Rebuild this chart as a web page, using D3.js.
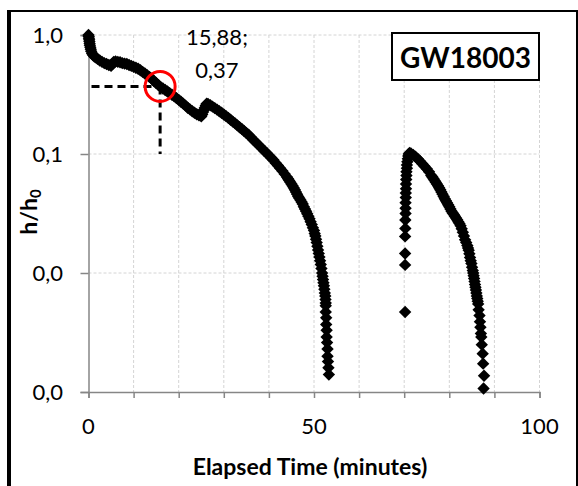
<!DOCTYPE html>
<html>
<head>
<meta charset="utf-8">
<script src="https://cdn.jsdelivr.net/npm/d3@7"></script>
<style>
  html, body { margin: 0; padding: 0; background: #fff; }
  svg { display: block; font-family: Lato, "Open Sans", sans-serif; }
</style>
</head>
<body>
<svg id="chart" width="578" height="486"></svg>
<script>
// well GW18003, first drawdown (minutes, h/h0)
const time1 = [
  0, 0.05, 0.1, 0.15, 0.2, 0.25, 0.3, 0.4, 0.5, 0.6, 0.8, 1.0, 1.3, 1.6, 2.0, 2.5, 3.0, 3.5, 4.0, 4.5,
  5.0, 5.3, 5.6, 6.0, 6.5, 7.0, 7.5, 8.0, 8.5, 9.0, 9.5, 10.0, 10.5, 11.0, 11.5, 12.0, 12.5, 13.0, 13.5, 14.0,
  14.5, 15.0, 15.5, 16.0, 16.5, 17.0, 17.5, 18.0, 18.5, 19.0, 19.5, 20.0, 20.5, 21.0, 21.5, 22.0, 22.5, 23.0, 23.5, 24.0,
  24.5, 25.0, 25.2, 25.4, 25.6, 25.8, 26.0, 26.2, 26.5, 27.0, 27.5, 28.0, 28.5, 29.0, 29.5, 30.0, 30.5, 31.0, 31.5, 32.0,
  32.5, 33.0, 33.5, 34.0, 34.5, 35.0, 35.5, 36.0, 36.5, 37.0, 37.5, 38.0, 38.5, 39.0, 39.5, 40.0, 40.5, 41.0, 41.5, 42.0,
  42.5, 43.0, 43.5, 44.0, 44.25, 44.5, 44.75, 45.0, 45.25, 45.5, 45.75, 46.0, 46.25, 46.5, 46.75, 47.0, 47.25, 47.5, 47.75, 48.0,
  48.25, 48.5, 48.75, 49.0, 49.25, 49.5, 49.75, 50.0, 50.15, 50.3, 50.45, 50.6, 50.75, 50.9, 51.05, 51.2, 51.35, 51.5, 51.65, 51.8,
  51.9, 52.0, 52.1, 52.2, 52.3, 52.4, 52.5, 52.55, 52.6, 52.6, 52.6, 52.7, 52.7, 52.8, 52.8, 52.9, 53.0, 53.0, 53.1, 53.2,
  53.3
];
const ratio1 = [
  1.00, 0.97, 0.94, 0.91, 0.88, 0.85, 0.82, 0.79, 0.76, 0.73, 0.70, 0.68, 0.66, 0.65, 0.63, 0.61, 0.595, 0.58, 0.57, 0.56,
  0.55, 0.57, 0.595, 0.60, 0.595, 0.59, 0.58, 0.575, 0.57, 0.56, 0.55, 0.54, 0.53, 0.52, 0.505, 0.49, 0.475, 0.46, 0.445, 0.43,
  0.41, 0.395, 0.38, 0.365, 0.355, 0.345, 0.335, 0.325, 0.315, 0.305, 0.295, 0.285, 0.275, 0.265, 0.255, 0.245, 0.237, 0.229, 0.222, 0.216,
  0.211, 0.207, 0.215, 0.225, 0.235, 0.245, 0.255, 0.265, 0.263, 0.257, 0.25, 0.243, 0.236, 0.229, 0.222, 0.215, 0.208, 0.201, 0.194, 0.187,
  0.181, 0.174, 0.168, 0.162, 0.156, 0.150, 0.145, 0.138, 0.132, 0.127, 0.121, 0.116, 0.111, 0.106, 0.102, 0.097, 0.093, 0.089, 0.084, 0.080,
  0.076, 0.072, 0.068, 0.064, 0.062, 0.060, 0.058, 0.056, 0.054, 0.052, 0.050, 0.048, 0.046, 0.044, 0.0425, 0.041, 0.0395, 0.038, 0.036, 0.0345,
  0.033, 0.0315, 0.030, 0.0285, 0.027, 0.0255, 0.024, 0.0228, 0.0215, 0.0205, 0.0192, 0.018, 0.0168, 0.0156, 0.0146, 0.0136, 0.0127, 0.0118, 0.0109, 0.010,
  0.0094, 0.0088, 0.0083, 0.0078, 0.0073, 0.0068, 0.0064, 0.0060, 0.0056, 0.0053, 0.0047, 0.0042, 0.0037, 0.0033, 0.0029, 0.0026, 0.0023, 0.0020, 0.0018, 0.0016,
  0.0014
];

// recovery and second drawdown
const time2 = [
  70.2, 70.2, 70.2, 70.2, 70.25, 70.25, 70.3, 70.3, 70.3, 70.35, 70.35, 70.4, 70.4, 70.45, 70.5, 70.5, 70.6, 70.6, 70.7, 70.8,
  70.9, 71.0, 71.2, 71.5, 72.0, 72.5, 73.0, 73.5, 74.0, 74.5, 75.0, 75.5, 76.0, 76.25, 76.5, 76.75, 77.0, 77.25, 77.5, 77.75,
  78.0, 78.25, 78.5, 78.75, 79.0, 79.25, 79.5, 79.75, 80.0, 80.25, 80.5, 80.75, 81.0, 81.25, 81.5, 81.75, 82.0, 82.25, 82.5, 82.75,
  83.0, 83.25, 83.5, 83.75, 84.0, 84.15, 84.3, 84.45, 84.6, 84.75, 84.9, 85.05, 85.2, 85.3, 85.4, 85.5, 85.6, 85.7, 85.8, 85.9,
  86.0, 86.1, 86.2, 86.3, 86.4, 86.5, 86.7, 86.8, 86.9, 87.0, 87.1, 87.2, 87.4, 87.5, 87.7, 87.6
];
const ratio2 = [
  0.0047, 0.0117, 0.0146, 0.0203, 0.0237, 0.0279, 0.0316, 0.035, 0.039, 0.043, 0.047, 0.051, 0.056, 0.061, 0.066, 0.071, 0.076, 0.081, 0.086, 0.091,
  0.096, 0.100, 0.102, 0.101, 0.098, 0.095, 0.091, 0.087, 0.083, 0.079, 0.075, 0.071, 0.066, 0.064, 0.062, 0.060, 0.058, 0.056, 0.054, 0.052,
  0.050, 0.048, 0.046, 0.044, 0.042, 0.0405, 0.039, 0.0375, 0.036, 0.0345, 0.033, 0.032, 0.031, 0.030, 0.029, 0.028, 0.027, 0.026, 0.025, 0.0235,
  0.022, 0.0205, 0.019, 0.018, 0.017, 0.0162, 0.0155, 0.0145, 0.0135, 0.0127, 0.012, 0.0112, 0.0105, 0.010, 0.0095, 0.009, 0.0085, 0.008, 0.0076, 0.0072,
  0.0068, 0.0064, 0.0061, 0.0058, 0.0055, 0.0049, 0.0044, 0.0039, 0.0035, 0.0031, 0.0029, 0.0025, 0.0021, 0.00173, 0.00137, 0.00107
];

const xTicks = [0, 50, 100];
const xGrid = d3.range(0, 101, 10);
const yTicks = [1, 0.1, 0.01, 0.001];

// marked point (t; h/h0)
const markT = [15.88];
const markH = [0.37];
const markLabel = ['15,88;', '0,37'];
const wellName = 'GW18003';

const svg = d3.select('#chart');

const x = d3.scaleLinear().domain([0, 100]).range([88.5, 539.5]);
const y = d3.scaleLog().domain([0.001, 1]).range([392, 35]);

const comma = d3.formatLocale({decimal: ',', thousands: '.', grouping: [3], currency: ['', '']});
const fmt = comma.format('.1f');

// outer frame
svg.append('line').attr('x1', 9).attr('x2', 9).attr('y1', 10).attr('y2', 486)
    .attr('stroke', '#000').attr('stroke-width', 4);
svg.append('line').attr('x1', 7).attr('x2', 578).attr('y1', 11).attr('y2', 11)
    .attr('stroke', '#000').attr('stroke-width', 2);
svg.append('line').attr('x1', 577).attr('x2', 577).attr('y1', 10).attr('y2', 486)
    .attr('stroke', '#000').attr('stroke-width', 2);

// grid
const grid = svg.append('g')
    .attr('stroke', '#d4d4d4')
    .attr('stroke-width', 1)
    .attr('stroke-dasharray', '3,2');
grid.selectAll('line.v')
    .data(xGrid.filter((d) => d > 0))
    .join('line')
    .attr('x1', (d) => x(d)).attr('x2', (d) => x(d))
    .attr('y1', y(1)).attr('y2', y(0.001));
grid.selectAll('line.h')
    .data(yTicks.filter((d) => d > 0.001))
    .join('line')
    .attr('x1', x(0)).attr('x2', x(100))
    .attr('y1', (d) => y(d)).attr('y2', (d) => y(d));

// axes
const xAxis = svg.append('g')
    .attr('transform', `translate(0,${y(0.001)})`)
    .call(d3.axisBottom(x).tickValues(xGrid).tickSize(6).tickFormat(''));
const yAxis = svg.append('g')
    .attr('transform', `translate(${x(0)},0)`)
    .call(d3.axisLeft(y).tickValues(yTicks).tickSize(8).tickFormat(''));
[xAxis, yAxis].forEach((a) => {
  a.select('.domain').attr('stroke', '#868686').attr('stroke-width', 1.5);
  a.selectAll('.tick line').attr('stroke', '#868686').attr('stroke-width', 1.5);
});

svg.append('g')
    .selectAll('text')
    .data(xTicks)
    .join('text')
    .attr('x', (d) => x(d))
    .attr('y', 434)
    .attr('text-anchor', 'middle')
    .attr('font-size', 22)
    .attr('fill', '#000')
    .text((d) => d);

svg.append('g')
    .selectAll('text')
    .data(yTicks)
    .join('text')
    .attr('x', 63)
    .attr('y', (d) => y(d) + 8)
    .attr('text-anchor', 'end')
    .attr('font-size', 22)
    .attr('fill', '#000')
    .text((d) => fmt(d));

svg.append('text')
    .attr('x', 310)
    .attr('y', 475)
    .attr('text-anchor', 'middle')
    .attr('font-size', 23)
    .attr('font-weight', 'bold')
    .text('Elapsed Time (minutes)');

const yTitle = svg.append('text')
    .attr('transform', 'translate(37,212) rotate(-90)')
    .attr('text-anchor', 'middle')
    .attr('font-size', 23)
    .attr('font-weight', 'bold');
yTitle.append('tspan').text('h/h');
yTitle.append('tspan').attr('font-size', 15).attr('dy', 4).text('0');

// reference lines to the marked point
const guide = svg.append('g')
    .attr('stroke', '#000')
    .attr('stroke-width', 3)
    .attr('stroke-dasharray', '8,5')
    .attr('fill', 'none');
guide.append('line')
    .attr('x1', x(0) + 3).attr('x2', x(markT[0]))
    .attr('y1', y(markH[0])).attr('y2', y(markH[0]));
guide.append('line')
    .attr('x1', x(markT[0])).attr('x2', x(markT[0]))
    .attr('y1', y(markH[0])).attr('y2', y(0.1));

// diamond markers
const diamond = (s) => `M0,${-s}L${s},0L0,${s}L${-s},0Z`;
const pts = time1.map((t, i) => [t, ratio1[i]])
    .concat(time2.map((t, i) => [t, ratio2[i]]));
svg.append('g')
    .selectAll('path')
    .data(pts)
    .join('path')
    .attr('transform', (d) => `translate(${x(d[0])},${y(d[1])})`)
    .attr('d', diamond(6.2))
    .attr('fill', '#000');

// highlight circle
svg.append('circle')
    .attr('cx', x(markT[0]))
    .attr('cy', y(markH[0]))
    .attr('r', 15)
    .attr('fill', 'none')
    .attr('stroke', '#ff0000')
    .attr('stroke-width', 3);

svg.append('g')
    .selectAll('text')
    .data(markLabel)
    .join('text')
    .attr('x', 217)
    .attr('y', (d, i) => 45 + i * 32.5)
    .attr('text-anchor', 'middle')
    .attr('font-size', 22)
    .text((d) => d);

// well label box
svg.append('rect')
    .attr('x', 392).attr('y', 33)
    .attr('width', 147).attr('height', 47)
    .attr('fill', '#fff')
    .attr('stroke', '#000')
    .attr('stroke-width', 2);
svg.append('text')
    .attr('x', 465.5)
    .attr('y', 68)
    .attr('text-anchor', 'middle')
    .attr('font-size', 28)
    .attr('font-weight', 'bold')
    .text(wellName);
</script>
</body>
</html>
